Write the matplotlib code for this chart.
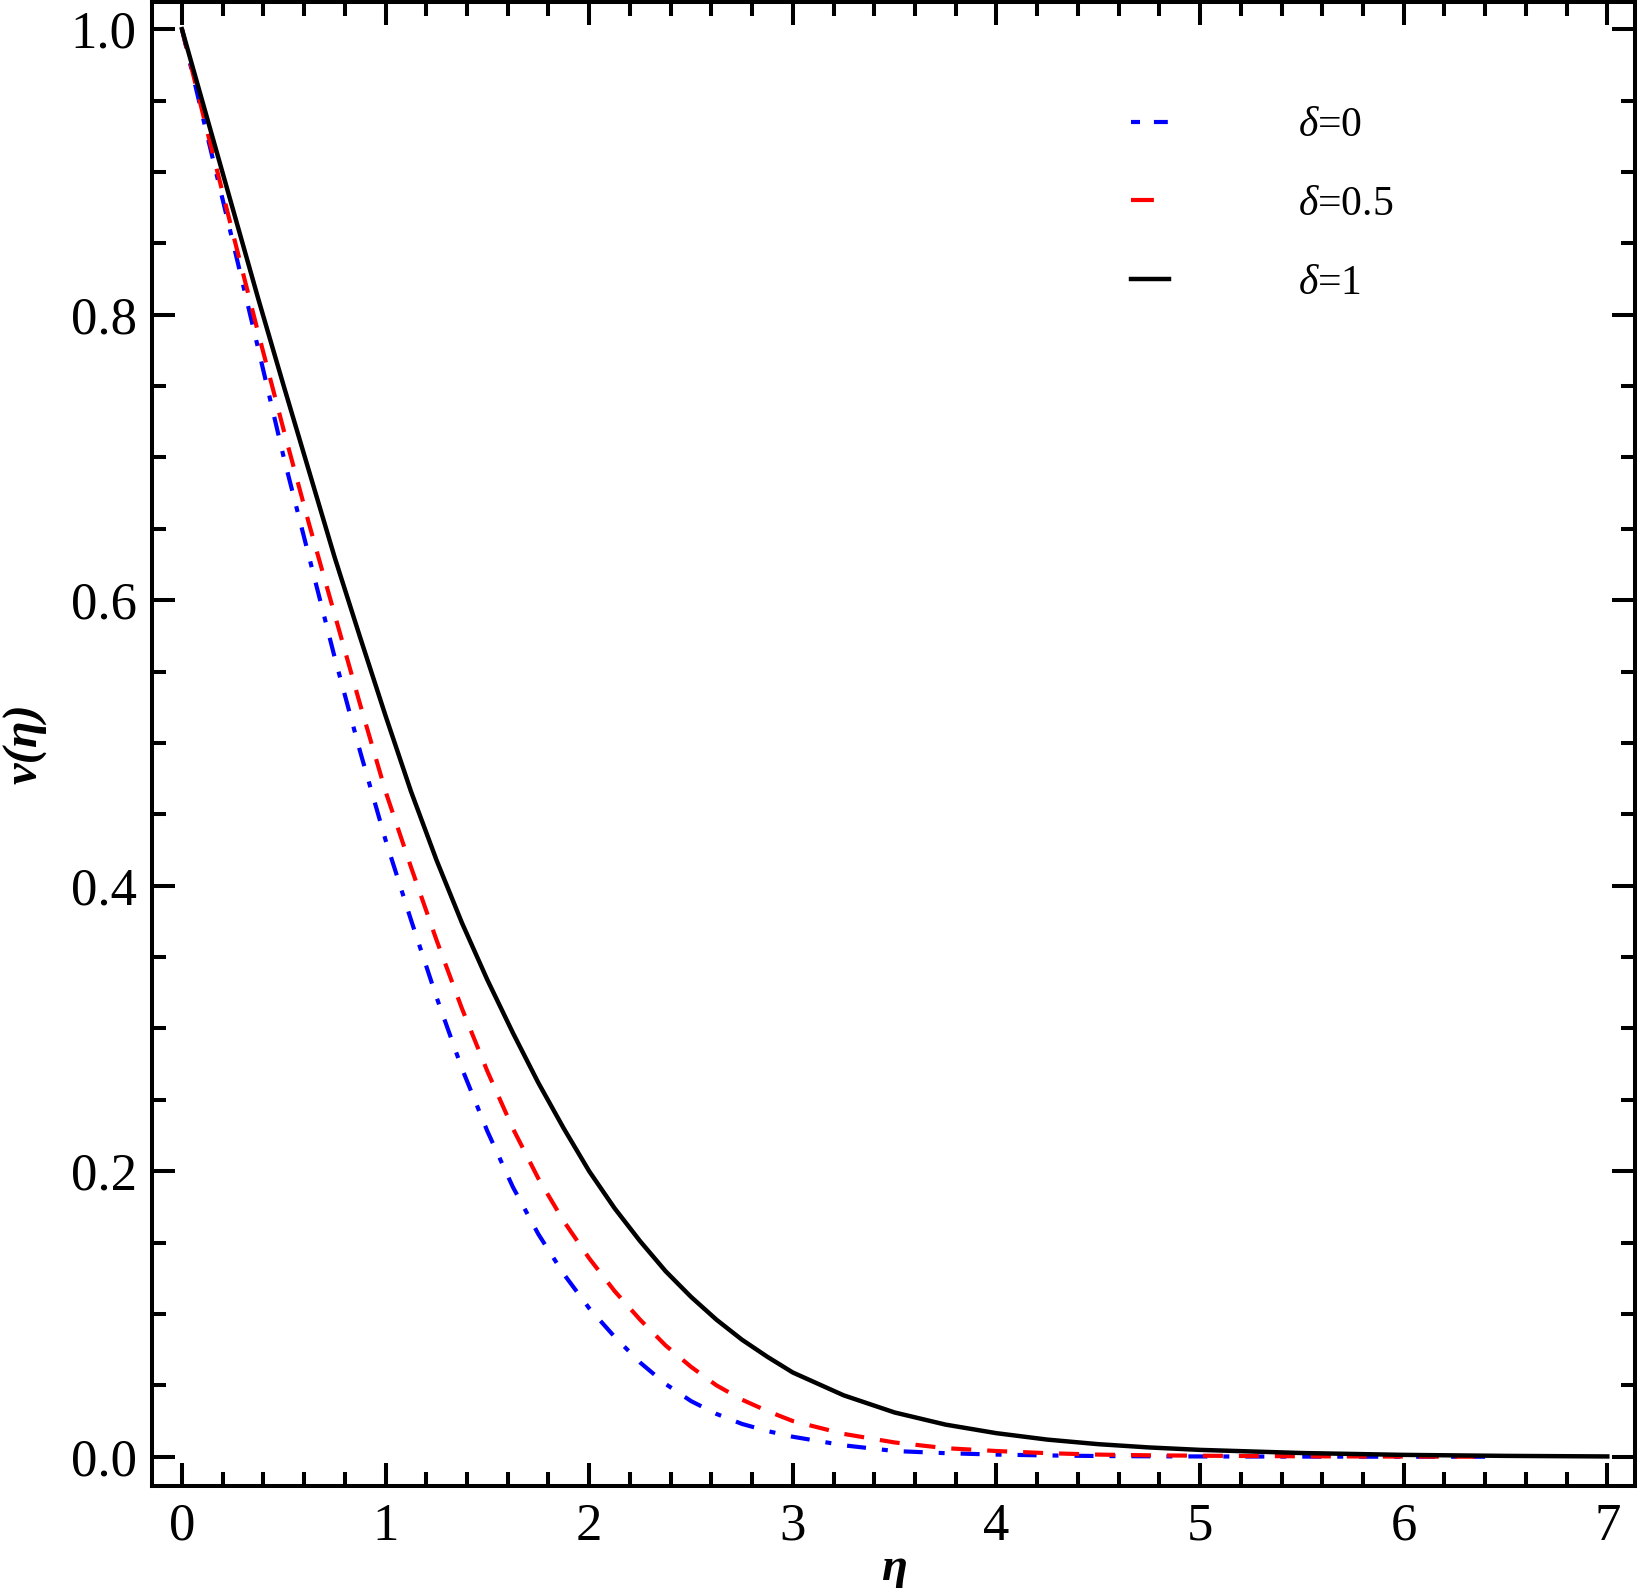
import matplotlib
matplotlib.use('Agg')
import matplotlib.pyplot as plt
from matplotlib.lines import Line2D
from matplotlib.ticker import MultipleLocator, FormatStrFormatter

# ---- data ----
eta = [0, 0.125, 0.25, 0.375, 0.5, 0.625, 0.75, 0.875, 1.0, 1.125, 1.25, 1.375,
       1.5, 1.625, 1.75, 1.875, 2.0, 2.125, 2.25, 2.375, 2.5, 2.625, 2.75, 2.875,
       3.0, 3.25, 3.5, 3.75, 4.0, 4.25, 4.5, 4.75, 5.0, 5.5, 6.0, 6.4]
v_delta0 = [1.0, 0.925, 0.851, 0.776, 0.700, 0.630, 0.560, 0.494, 0.432, 0.376,
            0.322, 0.272, 0.228, 0.189, 0.156, 0.128, 0.104, 0.084, 0.066, 0.051,
            0.039, 0.030, 0.023, 0.018, 0.014, 0.008, 0.004, 0.0025, 0.0015, 0.0009,
            0.0005, 0.0003, 0.0002, 0.0001, 0.0, 0.0]
v_delta05 = [1.0, 0.928, 0.857, 0.787, 0.719, 0.653, 0.590, 0.527, 0.466, 0.413,
             0.362, 0.314, 0.270, 0.230, 0.195, 0.165, 0.139, 0.116, 0.096, 0.078,
             0.063, 0.050, 0.040, 0.032, 0.025, 0.016, 0.010, 0.006, 0.004, 0.0025,
             0.0015, 0.001, 0.0007, 0.0003, 0.0001, 0.0]
eta_black = [0, 0.125, 0.25, 0.375, 0.5, 0.625, 0.75, 0.875, 1.0, 1.125, 1.25, 1.375,
             1.5, 1.625, 1.75, 1.875, 2.0, 2.125, 2.25, 2.375, 2.5, 2.625, 2.75, 2.875,
             3.0, 3.25, 3.5, 3.75, 4.0, 4.25, 4.5, 4.75, 5.0, 5.5, 6.0, 6.5, 7.0]
v_delta1 = [1.0, 0.937, 0.874, 0.811, 0.750, 0.690, 0.630, 0.574, 0.519, 0.466,
            0.418, 0.374, 0.334, 0.297, 0.262, 0.230, 0.200, 0.174, 0.151, 0.130,
            0.112, 0.096, 0.082, 0.070, 0.059, 0.043, 0.031, 0.0225, 0.0165, 0.012,
            0.0088, 0.0065, 0.0048, 0.0026, 0.0013, 0.0006, 0.0002]
labels = [r'$\delta$=0', r'$\delta$=0.5', r'$\delta$=1']
xticks = [0, 1, 2, 3, 4, 5, 6, 7]
yticks = [0.0, 0.2, 0.4, 0.6, 0.8, 1.0]

plt.rcParams['font.family'] = ['Liberation Serif', 'DejaVu Serif']
plt.rcParams['mathtext.fontset'] = 'custom'
plt.rcParams['mathtext.rm'] = 'Liberation Serif'
plt.rcParams['mathtext.it'] = 'Liberation Serif:italic'
plt.rcParams['mathtext.bf'] = 'Liberation Serif:bold'
plt.rcParams['lines.scale_dashes'] = False

fig = plt.figure(figsize=(16.39, 15.88), dpi=100)
ax = fig.add_axes([152/1639, 1 - 1486/1588, (1635-152)/1639, (1486-2)/1588])

ax.plot(eta, v_delta0, color='#0000ff', lw=3.0, dashes=(13.7, 11.5, 4.3, 11.5), zorder=3)
ax.plot(eta, v_delta05, color='#ff0000', lw=3.0, dashes=(14.4, 11.5), zorder=4)
ax.plot(eta_black, v_delta1, color='black', lw=3.2, zorder=5)

ax.set_xlim(-0.147, 7.136)
ax.set_ylim(-0.0205, 1.019)
ax.set_xticks(xticks)
ax.set_yticks(yticks)
ax.xaxis.set_minor_locator(MultipleLocator(0.2))
ax.yaxis.set_minor_locator(MultipleLocator(0.05))
ax.yaxis.set_major_formatter(FormatStrFormatter('%.1f'))
ax.tick_params(which='both', direction='in', top=True, right=True, width=2.9,
               labelsize=38, color='black')
ax.tick_params(which='major', length=16.5)
ax.tick_params(which='minor', length=10)
ax.tick_params(axis='x', which='major', pad=12)
ax.tick_params(axis='y', which='major', pad=11)
for s in ax.spines.values():
    s.set_linewidth(2.9)

ax.set_xlabel('η', fontsize=34, fontstyle='italic', fontweight='bold', labelpad=-2)
ax.set_ylabel('v(η)', fontsize=35, fontstyle='italic', fontweight='bold', labelpad=17)

# legend proxies (same colours / styles as the curves)
handles = [
    Line2D([], [], color='#0000ff', lw=3.0, dashes=(6.5, 10.0, 10.0, 10.0)),
    Line2D([], [], color='#ff0000', lw=3.0, dashes=(16.5, 20.0)),
    Line2D([], [], color='black', lw=3.2),
]
leg = ax.legend(handles, labels, loc='upper left',
                bbox_to_anchor=(1131/1639, 1 - 107/1588),
                bbox_transform=fig.transFigure, frameon=False, fontsize=30,
                handlelength=0.92, handletextpad=3.1, labelspacing=0.96,
                borderpad=0, borderaxespad=0)

fig.savefig('out.png', dpi=100)
